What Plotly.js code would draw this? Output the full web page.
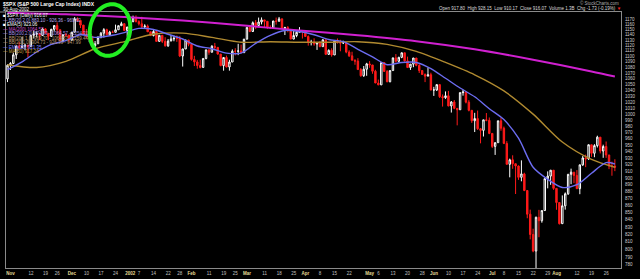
<!DOCTYPE html>
<html><head><meta charset="utf-8">
<script src="https://cdn.plot.ly/plotly-3.0.1.min.js"></script>
<style>html,body{margin:0;padding:0;background:#000;}#chart{width:640px;height:279px;}</style>
</head><body><div id="chart"></div>
<script>
// ---- data ----
const dates = [
'2001-11-01','2001-11-02','2001-11-05','2001-11-06','2001-11-07','2001-11-08','2001-11-09','2001-11-12','2001-11-13','2001-11-14','2001-11-15','2001-11-16','2001-11-19','2001-11-20','2001-11-21','2001-11-23','2001-11-26','2001-11-27','2001-11-28','2001-11-29','2001-11-30',
'2001-12-03','2001-12-04','2001-12-05','2001-12-06','2001-12-07','2001-12-10','2001-12-11','2001-12-12','2001-12-13','2001-12-14','2001-12-17','2001-12-18','2001-12-19','2001-12-20','2001-12-21','2001-12-24','2001-12-26','2001-12-27','2001-12-28','2001-12-31',
'2002-01-02','2002-01-03','2002-01-04','2002-01-07','2002-01-08','2002-01-09','2002-01-10','2002-01-11','2002-01-14','2002-01-15','2002-01-16','2002-01-17','2002-01-18','2002-01-22','2002-01-23','2002-01-24','2002-01-25','2002-01-28','2002-01-29','2002-01-30','2002-01-31',
'2002-02-01','2002-02-04','2002-02-05','2002-02-06','2002-02-07','2002-02-08','2002-02-11','2002-02-12','2002-02-13','2002-02-14','2002-02-15','2002-02-19','2002-02-20','2002-02-21','2002-02-22','2002-02-25','2002-02-26','2002-02-27','2002-02-28',
'2002-03-01','2002-03-04','2002-03-05','2002-03-06','2002-03-07','2002-03-08','2002-03-11','2002-03-12','2002-03-13','2002-03-14','2002-03-15','2002-03-18','2002-03-19','2002-03-20','2002-03-21','2002-03-22','2002-03-25','2002-03-26','2002-03-27','2002-03-28',
'2002-04-01','2002-04-02','2002-04-03','2002-04-04','2002-04-05','2002-04-08','2002-04-09','2002-04-10','2002-04-11','2002-04-12','2002-04-15','2002-04-16','2002-04-17','2002-04-18','2002-04-19','2002-04-22','2002-04-23','2002-04-24','2002-04-25','2002-04-26','2002-04-29','2002-04-30',
'2002-05-01','2002-05-02','2002-05-03','2002-05-06','2002-05-07','2002-05-08','2002-05-09','2002-05-10','2002-05-13','2002-05-14','2002-05-15','2002-05-16','2002-05-17','2002-05-20','2002-05-21','2002-05-22','2002-05-23','2002-05-24','2002-05-28','2002-05-29','2002-05-30','2002-05-31',
'2002-06-03','2002-06-04','2002-06-05','2002-06-06','2002-06-07','2002-06-10','2002-06-11','2002-06-12','2002-06-13','2002-06-14','2002-06-17','2002-06-18','2002-06-19','2002-06-20','2002-06-21','2002-06-24','2002-06-25','2002-06-26','2002-06-27','2002-06-28',
'2002-07-01','2002-07-02','2002-07-03','2002-07-05','2002-07-08','2002-07-09','2002-07-10','2002-07-11','2002-07-12','2002-07-15','2002-07-16','2002-07-17','2002-07-18','2002-07-19','2002-07-22','2002-07-23','2002-07-24','2002-07-25','2002-07-26','2002-07-29','2002-07-30','2002-07-31',
'2002-08-01','2002-08-02','2002-08-05','2002-08-06','2002-08-07','2002-08-08','2002-08-09','2002-08-12','2002-08-13','2002-08-14','2002-08-15','2002-08-16','2002-08-19','2002-08-20','2002-08-21','2002-08-22','2002-08-23','2002-08-26','2002-08-27','2002-08-28','2002-08-29','2002-08-30'
];
const opens = [
1059.79,1084.10,1087.20,1102.84,1118.86,1115.80,1118.54,1120.31,1118.33,1139.09,1141.21,1142.24,1138.65,1151.06,1142.66,1137.03,1150.34,1157.42,1149.50,1128.52,1140.20,
1139.45,1129.90,1144.80,1170.35,1167.10,1158.31,1139.93,1136.76,1137.07,1119.38,1123.09,1134.36,1142.92,1149.56,1139.93,1144.89,1144.65,1149.37,1157.13,1161.02,
1148.08,1154.67,1165.27,1172.51,1164.89,1160.71,1155.14,1156.55,1145.60,1138.41,1146.19,1127.57,1138.88,1127.58,1119.31,1128.18,1132.15,1133.28,1133.06,1100.64,1113.57,
1130.20,1122.20,1094.44,1090.02,1083.51,1080.17,1096.22,1111.94,1107.50,1118.51,1116.48,1104.18,1083.34,1097.98,1080.95,1089.84,1109.43,1109.38,1109.89,
1106.73,1131.78,1153.84,1146.14,1162.77,1157.54,1164.31,1168.26,1165.58,1154.09,1153.04,1166.16,1165.55,1170.29,1151.85,1153.59,1148.70,1131.87,1138.49,1144.58,
1147.39,1146.54,1136.76,1125.40,1126.34,1122.73,1125.29,1117.80,1130.47,1103.69,1111.01,1102.55,1128.37,1126.07,1124.47,1125.17,1107.83,1100.96,1093.14,1091.48,1076.32,1065.45,
1076.92,1086.46,1084.56,1073.43,1052.67,1049.49,1088.85,1073.01,1054.99,1074.56,1097.28,1091.07,1098.23,1106.59,1091.88,1079.88,1086.02,1097.08,1083.82,1074.55,1067.66,1064.66,
1067.14,1040.68,1040.69,1049.90,1029.15,1027.53,1030.74,1013.60,1020.26,1009.56,1007.27,1036.17,1037.14,1019.99,1006.29,989.14,992.72,976.14,973.53,990.64,
989.82,968.65,948.09,953.99,989.03,976.98,952.83,920.47,927.37,921.39,917.93,900.94,906.04,881.56,847.75,819.85,797.70,843.43,838.68,852.84,898.96,902.78,
911.62,884.66,864.24,834.60,859.57,876.77,905.46,908.64,903.80,884.21,919.62,930.25,928.77,950.70,937.43,949.36,962.70,940.86,947.95,934.82,917.87,917.80
];
const highs = [
1085.61,1089.63,1106.72,1119.73,1126.62,1135.75,1123.02,1121.71,1139.14,1148.28,1146.46,1143.52,1152.44,1152.45,1142.66,1151.05,1157.88,1163.38,1149.50,1140.40,1143.57,
1139.45,1144.80,1173.62,1173.35,1167.10,1158.31,1150.89,1141.58,1137.07,1128.28,1137.30,1145.10,1152.44,1151.42,1147.46,1147.83,1159.18,1157.13,1164.64,1161.16,
1154.67,1165.27,1176.55,1176.97,1167.60,1174.26,1159.93,1159.41,1145.60,1148.81,1146.19,1139.27,1138.88,1135.26,1131.94,1139.50,1138.31,1138.63,1137.47,1113.79,1130.21,
1130.20,1122.20,1100.96,1093.58,1094.03,1096.30,1112.01,1112.68,1120.56,1124.72,1117.09,1104.18,1098.32,1101.50,1093.93,1112.71,1115.05,1123.06,1121.57,
1131.79,1153.84,1157.74,1165.29,1167.94,1172.76,1173.03,1168.26,1165.58,1157.83,1166.48,1172.73,1173.94,1170.29,1155.10,1156.49,1151.04,1147.00,1146.95,1154.45,
1147.84,1146.54,1138.85,1130.45,1133.31,1125.41,1128.29,1131.76,1130.47,1112.77,1114.86,1129.40,1133.00,1130.49,1128.82,1125.17,1111.17,1108.46,1094.36,1096.77,1078.95,1082.62,
1088.32,1091.42,1084.56,1075.96,1058.67,1088.92,1088.85,1075.43,1074.84,1097.71,1104.23,1099.29,1106.59,1106.59,1099.55,1086.02,1097.10,1097.08,1085.98,1074.83,1069.50,1079.93,
1070.74,1046.06,1050.11,1049.90,1033.02,1038.18,1039.04,1021.85,1023.47,1009.56,1036.17,1040.83,1037.61,1023.33,1006.29,1002.11,1005.88,977.43,990.67,1001.79,
994.46,968.65,954.30,989.07,993.56,979.63,956.34,929.16,934.31,921.39,918.65,926.52,907.80,881.56,854.13,827.69,844.32,853.83,852.85,898.96,909.81,911.64,
911.62,884.72,864.24,874.44,878.74,905.84,913.95,908.64,911.71,920.21,933.29,935.38,951.17,950.70,951.59,965.00,962.70,950.80,955.82,934.82,924.59,928.15
];
const lows = [
1054.31,1075.58,1087.20,1095.36,1112.98,1115.42,1111.13,1098.32,1118.33,1132.87,1135.06,1129.92,1138.65,1142.17,1129.78,1135.90,1146.17,1140.81,1128.29,1125.51,1135.89,
1125.78,1128.86,1144.80,1164.43,1152.66,1139.66,1134.32,1126.01,1117.85,1114.53,1122.66,1134.36,1134.75,1139.93,1139.93,1144.62,1144.65,1149.37,1157.13,1148.04,
1136.23,1154.01,1163.42,1163.55,1157.46,1151.89,1150.85,1145.45,1138.15,1136.88,1127.49,1127.57,1124.45,1117.91,1117.43,1128.18,1127.82,1126.66,1098.74,1081.66,1113.30,
1118.51,1092.25,1082.58,1077.78,1078.44,1079.91,1094.68,1102.98,1107.50,1112.30,1103.23,1082.24,1074.36,1080.24,1074.39,1089.84,1101.72,1102.26,1106.73,
1106.73,1130.93,1144.78,1145.11,1150.69,1157.54,1159.58,1154.34,1151.01,1151.08,1153.04,1159.14,1165.55,1151.61,1139.48,1144.60,1131.87,1131.61,1135.33,1144.58,
1132.87,1135.71,1119.68,1120.06,1119.49,1111.79,1116.73,1117.80,1102.42,1102.74,1099.41,1102.55,1123.37,1109.29,1122.59,1105.62,1098.94,1092.51,1084.81,1076.31,1063.62,1063.46,
1065.29,1079.46,1068.89,1052.65,1048.96,1049.49,1072.23,1053.93,1053.90,1074.56,1088.94,1089.17,1096.77,1090.61,1079.08,1075.64,1080.55,1082.19,1070.31,1067.66,1054.26,1064.66,
1039.90,1030.52,1038.84,1026.91,1012.49,1025.45,1012.94,1002.58,1008.12,981.63,1007.27,1030.92,1017.88,1004.59,985.65,970.85,974.21,952.92,963.74,988.31,
967.43,945.54,934.87,953.99,972.91,951.71,920.29,900.94,913.71,876.46,897.13,895.03,880.60,842.07,813.26,796.13,775.68,816.11,835.92,852.84,884.70,889.88,
882.48,853.95,833.44,834.60,854.15,875.17,890.77,892.38,883.62,876.20,918.17,916.21,927.21,931.86,931.32,946.43,937.17,930.42,930.36,913.21,903.33,910.17
];
const closes = [
1084.10,1087.20,1102.84,1118.86,1115.80,1118.54,1120.31,1118.33,1139.09,1141.21,1142.24,1138.65,1151.06,1142.66,1137.03,1150.34,1157.42,1149.50,1128.52,1140.20,1139.45,
1129.90,1144.80,1170.35,1167.10,1158.31,1139.93,1136.76,1137.07,1119.38,1123.09,1134.36,1142.92,1149.56,1139.93,1144.89,1144.65,1149.37,1157.13,1161.02,1148.08,
1154.67,1165.27,1172.51,1164.89,1160.71,1155.14,1156.55,1145.60,1138.41,1146.19,1127.57,1138.88,1127.58,1119.31,1128.18,1132.15,1133.28,1133.06,1100.64,1113.57,1130.20,
1122.20,1094.44,1090.02,1083.51,1080.17,1096.22,1111.94,1107.50,1118.51,1116.48,1104.18,1083.34,1097.98,1080.95,1089.84,1109.43,1109.38,1109.89,1106.73,
1131.78,1153.84,1146.14,1162.77,1157.54,1164.31,1168.26,1165.58,1154.09,1153.04,1166.16,1165.55,1170.29,1151.85,1153.59,1148.70,1131.87,1138.49,1144.58,1147.39,
1146.54,1136.76,1125.40,1126.34,1122.73,1125.29,1117.80,1130.47,1103.69,1111.01,1102.55,1128.37,1126.07,1124.47,1125.17,1107.83,1100.96,1093.14,1091.48,1076.32,1065.45,1076.92,
1086.46,1084.56,1073.43,1052.67,1049.49,1088.85,1073.01,1054.99,1074.56,1097.28,1091.07,1098.23,1106.59,1091.88,1079.88,1086.02,1097.08,1083.82,1074.55,1067.66,1064.66,1067.14,
1040.68,1040.69,1049.90,1029.15,1027.53,1030.74,1013.60,1020.26,1009.56,1007.27,1036.17,1037.14,1019.99,1006.29,989.14,992.72,976.14,973.53,990.64,989.82,
968.65,948.09,953.99,989.03,976.98,952.83,920.47,927.37,921.39,917.93,900.94,906.04,881.56,847.75,819.85,797.70,843.43,838.68,852.84,898.96,902.78,911.62,
884.66,864.24,834.60,859.57,876.77,905.46,908.64,903.80,884.21,919.62,930.25,928.77,950.70,937.43,949.36,962.70,940.86,947.95,934.82,917.87,917.80,916.07
];

// overlay lines
const ema20Dates = ['2001-11-01','2001-11-08','2001-11-15','2001-11-23','2001-11-30','2001-12-07','2001-12-14','2001-12-21','2001-12-31','2002-01-08','2002-01-15','2002-01-23','2002-01-30','2002-02-06','2002-02-13','2002-02-21','2002-02-28','2002-03-07','2002-03-14','2002-03-21','2002-03-28','2002-04-05','2002-04-12','2002-04-19','2002-04-26','2002-05-03','2002-05-10','2002-05-17','2002-05-24','2002-06-03','2002-06-10','2002-06-17','2002-06-24','2002-07-01','2002-07-09','2002-07-16','2002-07-23','2002-07-30','2002-08-06','2002-08-13','2002-08-20','2002-08-27','2002-08-30'];
const ema20Vals = [1076,1090,1108,1122,1129,1140,1135,1138,1144,1152,1150,1141,1132,1119,1114,1106,1106,1124,1139,1148,1146,1140,1131,1127,1113,1099,1085,1089,1089,1078,1061,1044,1029,1009,991,961,916,898,886,890,907,923,921];
const ma50Dates = ['2001-11-01','2001-11-15','2001-11-30','2001-12-14','2001-12-31','2002-01-15','2002-01-30','2002-02-13','2002-02-28','2002-03-14','2002-03-28','2002-04-12','2002-04-26','2002-05-10','2002-05-24','2002-06-10','2002-06-24','2002-07-09','2002-07-23','2002-08-06','2002-08-20','2002-08-30'];
const ma50Vals = [1085,1080,1091,1114,1127,1141,1143,1135,1126,1127,1126,1126,1127,1122,1109,1089,1067,1039,1000,955,928,916];
const ma200Dates = ['2001-11-01','2001-11-30','2001-12-31','2002-01-30','2002-02-28','2002-03-28','2002-04-26','2002-05-24','2002-06-24','2002-07-23','2002-08-20','2002-08-30'];
const ma200Vals = [1182,1179,1174,1167,1158,1148,1139,1128,1113,1094,1073,1064];

const tickDates = ['2001-11-01','2001-11-12','2001-11-19','2001-11-26','2001-12-03','2001-12-10','2001-12-17','2001-12-24','2002-01-02','2002-01-07','2002-01-14','2002-01-22','2002-01-28','2002-02-01','2002-02-11','2002-02-19','2002-02-25','2002-03-01','2002-03-11','2002-03-18','2002-03-25','2002-04-01','2002-04-08','2002-04-15','2002-04-22','2002-05-01','2002-05-06','2002-05-13','2002-05-20','2002-05-28','2002-06-03','2002-06-10','2002-06-17','2002-06-24','2002-07-01','2002-07-08','2002-07-15','2002-07-22','2002-07-29','2002-08-01','2002-08-12','2002-08-19','2002-08-26'];
const tickLabels = ['Nov','12','19','26','Dec','10','17','24','2002','7','14','22','28','Feb','11','19','25','Mar','11','18','25','Apr','8','15','22','May','6','13','20','28','Jun','10','17','24','Jul','8','15','22','29','Aug','12','19','26'];
const yTicks = [780,790,800,810,820,830,840,850,860,870,880,890,900,910,920,930,940,950,960,970,980,990,1000,1010,1020,1030,1040,1050,1060,1070,1080,1090,1100,1110,1120,1130,1140,1150,1160,1170];

const titleText = '$SPX (S&P 500 Large Cap Index) INDX';
const dateText = '30-Aug-2002';
const quoteText = 'Open 917.80  High 928.15  Low 910.17  Close 916.07  Volume 1.3B  Chg -1.73 (-0.19%)';
const legendTexts = [
 '■ $SPX (Daily) 916.07',
 '— BB(20,2.0) 883.10 - 926.36 - 969.62',
 '■ EMA(5) 923.06',
 '— MA(200) 1064.57',
 '— BB(200,2.0) 874.83 - 1064.57 - 1254.31',
 '— BB(200,1.0) 969.70 - 1064.57 - 1159.44',
 '— BB(20,1.0) 904.73 - 926.36 - 947.99',
 '— EMA(20) 921.35',
 '— MA(50) 917.24'
];

// ---- drawing ----
const pos = d => dates.indexOf(d);
const xIdx = dates.map((d, i) => i);
const L = 6, R = 621, T = 12, B = 268;
const px = x => (x - L) / (R - L);
const py = y => (B - y) / (B - T);
const FONT = 'Liberation Sans, Arial, sans-serif';

const traces = [
 {type:'candlestick', x:xIdx, open:opens, high:highs, low:lows, close:closes,
  increasing:{line:{color:'#ffffff', width:1}, fillcolor:'#000000'},
  decreasing:{line:{color:'#ff1a1a', width:1}, fillcolor:'#ff1a1a'},
  whiskerwidth:0, hoverinfo:'skip', showlegend:false},
 {type:'scatter', mode:'lines', x:ma200Dates.map(pos), y:ma200Vals, line:{color:'#d020d0', width:2, shape:'spline', smoothing:0.8}, hoverinfo:'skip'},
 {type:'scatter', mode:'lines', x:ma50Dates.map(pos), y:ma50Vals, line:{color:'#b08a30', width:1.4, shape:'spline', smoothing:0.8}, hoverinfo:'skip'},
 {type:'scatter', mode:'lines', x:ema20Dates.map(pos), y:ema20Vals, line:{color:'#6c6cf0', width:1.4, shape:'spline', smoothing:0.8}, hoverinfo:'skip'}
];

const tickText = tickLabels.map(t => /^\d{1,2}$/.test(t) ? t : '<span style="color:#e6dc96"><b>' + t + '</b></span>');

const legendColors = ['#ffffff','#b8a8f0','#ffffff','#d050d0','#a090e0','#b89870','#b89870','#8080ff','#c8a040'];
const legendY = [15.5,20,24.5,29,33.5,38,42.5,47,51.5];

const annotations = [
 {text:'<b>'+titleText+'</b>', x:px(2), y:py(4), xanchor:'left', yanchor:'middle', font:{size:5, color:'#ffffff'}},
 {text:dateText, x:px(2), y:py(9), xanchor:'left', yanchor:'middle', font:{size:4.5, color:'#ffffff'}},
 {text:'© StockCharts.com', x:px(620), y:py(3), xanchor:'right', yanchor:'middle', font:{size:4.5, color:'#aaaaaa'}},
 {text:quoteText + ' <span style="color:#ff2020">▼</span>', x:px(622), y:py(8), xanchor:'right', yanchor:'middle', font:{size:4.5, color:'#dddddd'}}
];
legendTexts.forEach((t, k) => annotations.push({text:t, x:px(2), y:py(legendY[k]), xanchor:'left', yanchor:'middle', font:{size:4.5, color:legendColors[k]}}));
annotations.forEach(a => { a.xref='paper'; a.yref='paper'; a.showarrow=false; a.borderpad=0; a.font.family=FONT; });

function ellipsePath(cx, cy, rx, ry, rotDeg){
 const a = rotDeg*Math.PI/180; let p = '';
 for (let k = 0; k <= 72; k++) {
  const t = k/72*2*Math.PI, ex = rx*Math.cos(t), ey = ry*Math.sin(t);
  const X = cx + ex*Math.cos(a) - ey*Math.sin(a), Y = cy + ex*Math.sin(a) + ey*Math.cos(a);
  p += (k ? 'L' : 'M') + px(X).toFixed(5) + ',' + py(Y).toFixed(5);
 }
 return p + 'Z';
}

const layout = {
 width:640, height:279,
 paper_bgcolor:'#000000', plot_bgcolor:'#000000',
 margin:{l:L, r:640-R, t:T, b:279-B, pad:0},
 showlegend:false,
 font:{family:FONT, color:'#cccccc', size:5},
 xaxis:{type:'linear', range:[-0.51, 210.1], tickvals:tickDates.map(pos), ticktext:tickText,
  tickfont:{size:4.5, color:'#c0c0c0', family:FONT}, ticks:'', showgrid:false, zeroline:false,
  showline:true, linecolor:'#8a8a8a', linewidth:1, mirror:true, rangeslider:{visible:false},
  ticklabelshift:3, ticklabelstandoff:1, tickangle:0, fixedrange:true},
 yaxis:{type:'log', range:[Math.log10(775.7), Math.log10(1183.6)], side:'right', tickvals:yTicks,
  ticktext:yTicks.map(String), tickfont:{size:4.5, color:'#cfcfcf', family:FONT}, ticks:'',
  showgrid:false, zeroline:false, showline:true, linecolor:'#8a8a8a', linewidth:1, mirror:true,
  ticklabelstandoff:2, fixedrange:true},
 annotations:annotations,
 shapes:[
  {type:'line', xref:'paper', yref:'paper', x0:px(0), x1:px(6), y0:1, y1:1, line:{color:'#8a8a8a', width:1}},
  {type:'path', xref:'paper', yref:'paper', path:ellipsePath(110, 30, 20, 26, 12), line:{color:'#22ee22', width:4}, layer:'above'}
 ]
};

Plotly.newPlot('chart', traces, layout, {staticPlot:true, displayModeBar:false});
</script>
</body></html>
